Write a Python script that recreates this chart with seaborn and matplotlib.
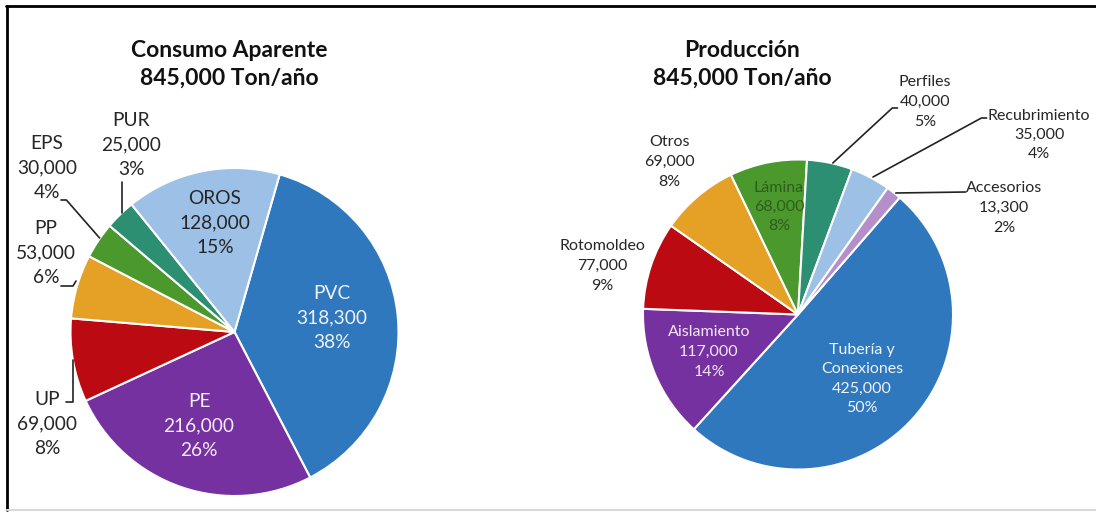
import matplotlib
matplotlib.use("Agg")
import matplotlib.pyplot as plt
import seaborn as sns
from matplotlib.lines import Line2D

# data
consumo_labels = ["PVC", "PE", "UP", "PP", "EPS", "PUR", "OROS"]
consumo_values = [318300, 216000, 69000, 53000, 30000, 25000, 128000]
consumo_pct = ["38%", "26%", "8%", "6%", "4%", "3%", "15%"]

produccion_labels = ["Tubería y\nConexiones", "Aislamiento", "Rotomoldeo", "Otros",
                     "Lámina", "Perfiles", "Recubrimiento", "Accesorios"]
produccion_values = [425000, 117000, 77000, 69000, 68000, 40000, 35000, 13300]
produccion_pct = ["50%", "14%", "9%", "8%", "8%", "5%", "4%", "2%"]

titles = ["Consumo Aparente\n845,000 Ton/año", "Producción\n845,000 Ton/año"]

palette = sns.color_palette(["#2F78BE", "#7631A0", "#BC0A12", "#E5A026",
                             "#4B982D", "#2C8F72", "#9DC0E6", "#B48FC9"])

W, H = 1096, 514
sns.set_theme(style="white")
plt.rcParams["font.family"] = ["Lato", "DejaVu Sans"]

fig = plt.figure(figsize=(W / 100, H / 100), dpi=100)
ax = fig.add_axes([0, 0, 1, 1])
ax.axis("off")


def y(v):
    # pixel row (from top) -> data y
    return H - v


def fmt(v):
    return f"{v:,}"


# left pie
ax.pie(consumo_values, colors=palette[:len(consumo_values)], startangle=74,
       counterclock=False, center=(234.5, y(332)), radius=164,
       wedgeprops=dict(edgecolor="white", linewidth=1.5))

# right pie
ax.pie(produccion_values, colors=palette[:len(produccion_values)], startangle=49,
       counterclock=False, center=(798, y(314.5)), radius=155,
       wedgeprops=dict(edgecolor="white", linewidth=1.5))

ax.set_xlim(0, W)
ax.set_ylim(0, H)
ax.set_aspect("equal")

# titles
ax.text(229, y(64), titles[0], ha="center", va="center", fontsize=16.5,
        fontweight="bold", color="#111111", linespacing=1.4)
ax.text(742, y(64), titles[1], ha="center", va="center", fontsize=16.5,
        fontweight="bold", color="#111111", linespacing=1.4)

# left labels: position, colour
left_pos = [(332, 318, "#EEF2F8"), (199, 426, "#F2ECF6"), (47, 424, "#262626"),
            (46, 253, "#262626"), (47, 168, "#262626"), (131, 145, "#262626"),
            (215, 223, "#262626")]
for lab, val, pct, (px, pyy, c) in zip(consumo_labels, consumo_values, consumo_pct, left_pos):
    ax.text(px, y(pyy), f"{lab}\n{fmt(val)}\n{pct}", ha="center", va="center",
            fontsize=13.8, color=c, linespacing=1.55)

# right labels
right_pos = [(862, 379, "#EEF2F8"), (709, 352, "#F2E6F4"), (602, 266, "#262626"),
             (669, 162, "#262626"), (779, 207, "#2E5E1C"), (925, 102, "#262626"),
             (1039, 135, "#262626"), (1004, 208, "#262626")]
for lab, val, pct, (px, pyy, c) in zip(produccion_labels, produccion_values, produccion_pct, right_pos):
    ax.text(px, y(pyy), f"{lab}\n{fmt(val)}\n{pct}", ha="center", va="center",
            fontsize=11.5, color=c, linespacing=1.5)

# leader lines
leaders = [
    [(121.6, 182), (121.6, 213)],
    [(61, 200), (66.4, 200), (99.6, 238)],
    [(61, 286), (73, 286), (76, 281)],
    [(66.4, 402), (72.7, 402), (72.7, 360)],
    [(832.8, 163), (892.3, 108), (897.5, 108)],
    [(873, 177), (981.4, 118), (986.6, 118)],
    [(895.8, 193), (965.7, 192)],
]
for pts in leaders:
    ax.plot([p[0] for p in pts], [y(p[1]) for p in pts], color="#222222", lw=1.2)

# frame
fig.add_artist(Line2D([6 / W, 1], [1 - 6 / H, 1 - 6 / H], color="black", lw=2,
                      transform=fig.transFigure))
fig.add_artist(Line2D([7 / W, 7 / W], [1 - 6 / H, 4 / H], color="black", lw=2,
                      transform=fig.transFigure))
fig.add_artist(Line2D([7 / W, 1], [4 / H, 4 / H], color="#D8D8D8", lw=1.5,
                      transform=fig.transFigure))

fig.savefig("out.png", dpi=100, facecolor="white")
